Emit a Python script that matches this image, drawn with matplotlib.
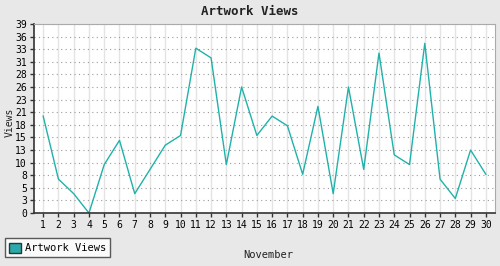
import matplotlib
matplotlib.use("Agg")
import matplotlib.pyplot as plt
from matplotlib.patches import Patch

days = list(range(1, 31))
views = [20, 7, 4, 0, 10, 15, 4, 9, 14, 16, 34, 32, 10, 26, 16, 20, 18, 8, 22, 4,
         26, 9, 33, 12, 10, 35, 7, 3, 13, 8]
ytick_pos = [i * 39 / 15 for i in range(16)]
ytick_labels = ["0", "3", "5", "8", "10", "13", "15", "18", "21", "23", "26", "28",
                "31", "33", "36", "39"]

teal = "#20b2aa"
mono = "DejaVu Sans Mono"

fig = plt.figure(figsize=(5, 2.66), dpi=100, facecolor="#e8e8e8")
ax = fig.add_axes([0.068, 0.199, 0.922, 0.711])
ax.set_facecolor("white")

ax.plot(days, views, color=teal, lw=1)

ax.set_xlim(0.4, 30.6)
ax.set_ylim(0, 39)
ax.set_xticks(days)
ax.set_xticklabels([str(d) for d in days], family=mono, fontsize=7)
ax.set_yticks(ytick_pos)
ax.set_yticklabels(ytick_labels, family=mono, fontsize=7)
ax.tick_params(axis="both", direction="out", length=3, width=1, color="#333333", pad=2)

ax.grid(axis="x", color="#e4e4e4", lw=1, ls="-")
ax.grid(axis="y", color="#999999", lw=0.8, ls=(0, (1, 3)))
ax.set_axisbelow(True)

for side in ["top", "right"]:
    ax.spines[side].set_color("#aaaaaa")
for side in ["left", "bottom"]:
    ax.spines[side].set_color("#333333")
    ax.spines[side].set_linewidth(1.2)

fig.text(0.5, 0.955, "Artwork Views", ha="center", va="center", family=mono,
         fontsize=9, fontweight="bold", color="#222222")
fig.text(0.536, 0.04, "November", ha="center", va="center", family=mono,
         fontsize=7.5, color="#222222")
fig.text(0.02, 0.54, "Views", ha="center", va="center", rotation=90, family=mono,
         fontsize=7, color="#222222")

leg = fig.legend(handles=[Patch(facecolor="#2aaaaa", edgecolor="#333333", label="Artwork Views")],
                 loc="lower left", bbox_to_anchor=(0.01, 0.033), prop={"family": mono, "size": 7.5},
                 frameon=True, fancybox=False, handlelength=1.1, handleheight=1.1,
                 handletextpad=0.4, borderpad=0.4, borderaxespad=0)
leg.get_frame().set_edgecolor("#333333")
leg.get_frame().set_linewidth(1)

fig.savefig("out.png", dpi=100, facecolor=fig.get_facecolor())
